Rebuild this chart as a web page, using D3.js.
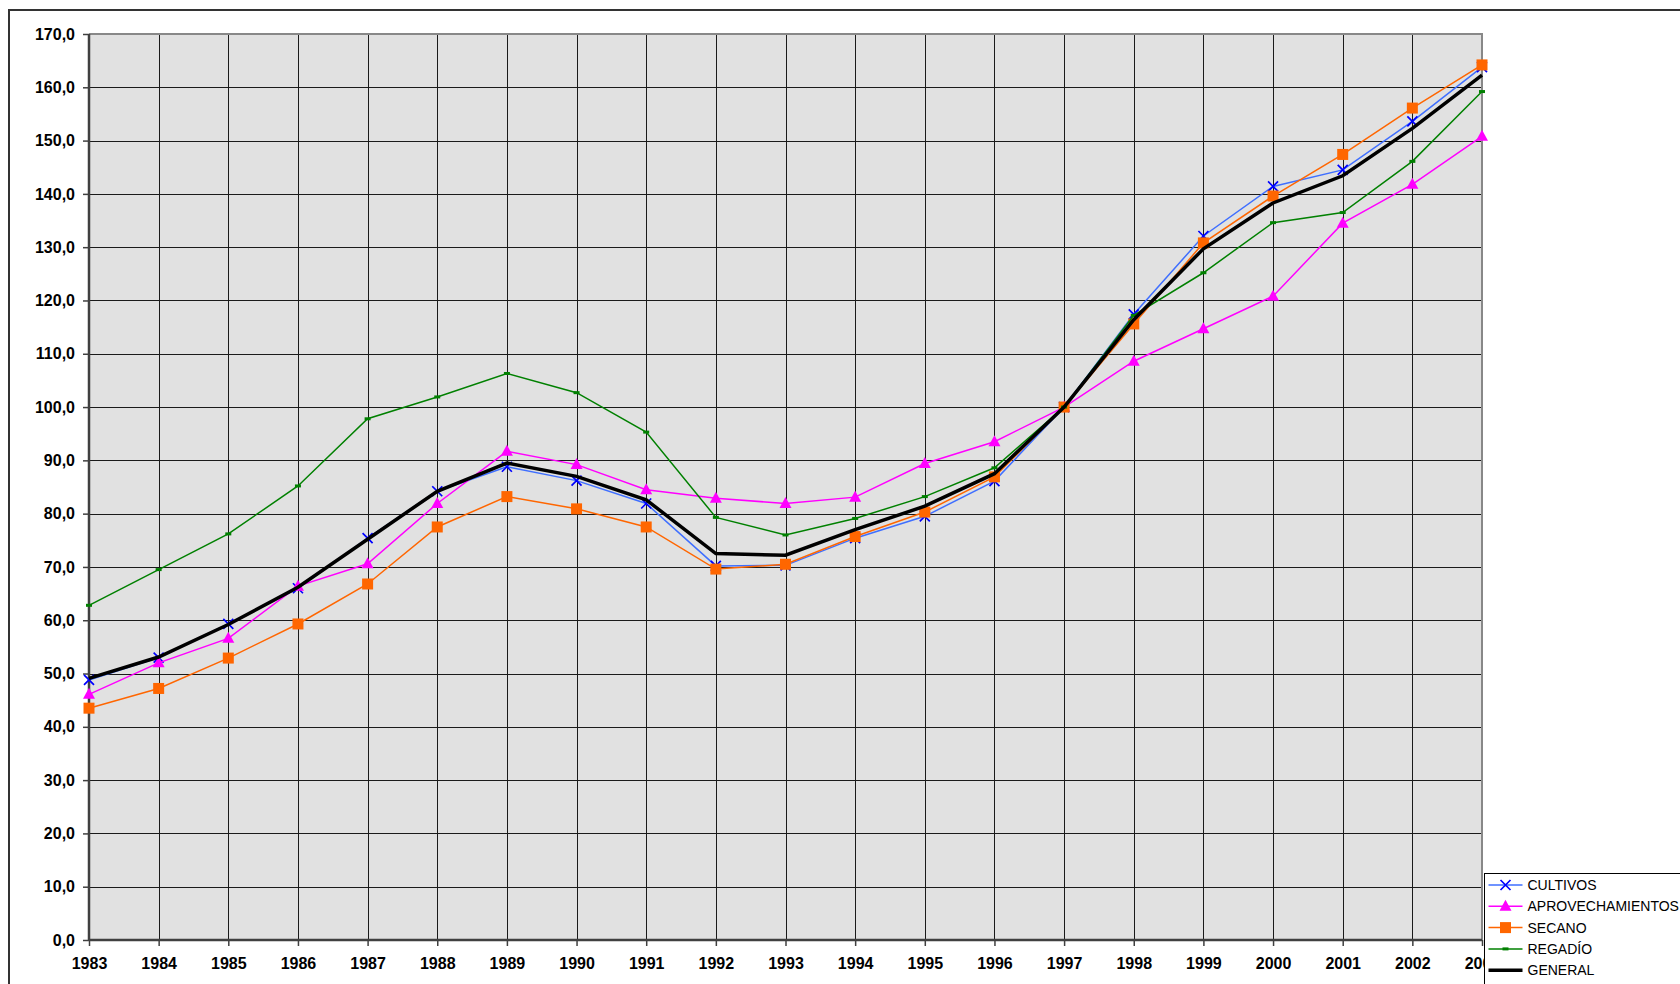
<!DOCTYPE html>
<html>
<head>
<meta charset="utf-8">
<script src="https://cdn.jsdelivr.net/npm/d3@7/dist/d3.min.js"></script>
<style>
  body { margin: 0; background: #fff; overflow: hidden; }
  svg { display: block; font-family: Arial, 'Liberation Sans', sans-serif; }
</style>
</head>
<body>
<div id="chart"></div>
<script>
// data
var years = [1983, 1984, 1985, 1986, 1987, 1988, 1989, 1990, 1991, 1992, 1993,
  1994, 1995, 1996, 1997, 1998, 1999, 2000, 2001, 2002, 2003]

var cultivos = [48.8, 53.0, 59.3, 66.0, 75.4, 84.2, 88.8, 86.2, 81.9, 70.2, 70.3,
  75.4, 79.5, 86.1, 100.0, 117.4, 132.1, 141.4, 144.5, 153.6, 163.8]
var aprovechamientos = [46.1, 52.0, 56.6, 66.4, 70.6, 81.9, 91.7, 89.2, 84.5, 82.9, 81.9,
  83.1, 89.4, 93.5, 100.0, 108.6, 114.7, 120.8, 134.5, 141.8, 150.8]
var secano = [43.5, 47.2, 52.9, 59.3, 66.8, 77.5, 83.2, 80.9, 77.5, 69.6, 70.5,
  75.7, 80.3, 86.9, 100.0, 115.6, 130.8, 139.6, 147.4, 156.1, 164.2]
var regadio = [62.8, 69.5, 76.2, 85.2, 97.8, 101.9, 106.3, 102.7, 95.3, 79.3, 76.0,
  79.1, 83.2, 88.6, 100.0, 117.2, 125.2, 134.6, 136.5, 146.1, 159.2]
var general = [49.1, 53.1, 59.2, 66.2, 75.2, 84.2, 89.5, 87.0, 82.6, 72.5, 72.2,
  77.0, 81.4, 87.5, 100.0, 116.4, 129.7, 138.3, 143.4, 152.3, 162.3]

var seriesNames = ['CULTIVOS', 'APROVECHAMIENTOS', 'SECANO', 'REGADÍO', 'GENERAL']
var yTicks = [0, 10, 20, 30, 40, 50, 60, 70, 80, 90, 100, 110, 120, 130, 140, 150, 160, 170]

var series = [
  { name: seriesNames[0], values: cultivos, line: '#3f6fff', mark: '#0000ff', width: 1.5, marker: 'x' },
  { name: seriesNames[1], values: aprovechamientos, line: '#ff00ff', mark: '#ff00ff', width: 1.5, marker: 'tri' },
  { name: seriesNames[2], values: secano, line: '#ff6600', mark: '#ff6600', width: 1.5, marker: 'sq' },
  { name: seriesNames[3], values: regadio, line: '#008000', mark: '#008000', width: 1.5, marker: 'dash' },
  { name: seriesNames[4], values: general, line: '#000000', mark: '#000000', width: 3.5, marker: 'none' }
]

var W = 1680, H = 984
var plot = { left: 89, right: 1482, top: 34, bottom: 940 }

var svg = d3.select('#chart').append('svg')
  .attr('width', W)
  .attr('height', H)

// outer chart frame
svg.append('rect')
  .attr('x', 9).attr('y', 10)
  .attr('width', 1720).attr('height', 1020)
  .attr('fill', '#fff')
  .attr('stroke', '#333')
  .attr('stroke-width', 2)

var x = d3.scaleLinear().domain([years[0], years[years.length - 1]]).range([plot.left, plot.right])
var y = d3.scaleLinear().domain([0, 170]).range([plot.bottom, plot.top])

// plot background
svg.append('rect')
  .attr('x', plot.left).attr('y', plot.top)
  .attr('width', plot.right - plot.left)
  .attr('height', plot.bottom - plot.top)
  .attr('fill', '#e1e1e1')

// grid
var grid = svg.append('g').attr('class', 'grid')
grid.selectAll('.hgrid')
  .data(yTicks)
  .enter()
  .append('line')
  .attr('x1', plot.left).attr('x2', plot.right)
  .attr('y1', d => Math.round(y(d)) + 0.5)
  .attr('y2', d => Math.round(y(d)) + 0.5)
  .attr('stroke', '#1a1a1a')
  .attr('stroke-width', 1)
grid.selectAll('.vgrid')
  .data(years)
  .enter()
  .append('line')
  .attr('y1', plot.top).attr('y2', plot.bottom)
  .attr('x1', d => Math.round(x(d)) + 0.5)
  .attr('x2', d => Math.round(x(d)) + 0.5)
  .attr('stroke', '#1a1a1a')
  .attr('stroke-width', 1)

// plot border top/right
svg.append('path')
  .attr('d', 'M' + plot.left + ',' + plot.top + 'H' + plot.right + 'V' + plot.bottom)
  .attr('fill', 'none')
  .attr('stroke', '#888')
  .attr('stroke-width', 2)

// axes
var yAxis = d3.axisLeft(y)
  .tickValues(yTicks)
  .tickSize(6)
  .tickPadding(8)
  .tickFormat(d => d3.format('.1f')(d).replace('.', ','))
var yg = svg.append('g')
  .attr('transform', 'translate(' + plot.left + ',0)')
  .call(yAxis)

var xAxis = d3.axisBottom(x)
  .tickValues(years)
  .tickSize(6)
  .tickPadding(12)
  .tickFormat(d3.format('d'))
var xg = svg.append('g')
  .attr('transform', 'translate(0,' + plot.bottom + ')')
  .call(xAxis)

;[yg, xg].forEach(function(g) {
  g.select('.domain').attr('stroke', '#404040').attr('stroke-width', 2.5)
  g.selectAll('.tick line').attr('stroke', '#404040').attr('stroke-width', 1.5)
  g.selectAll('.tick text')
    .attr('fill', '#000')
    .attr('font-size', 16)
    .attr('font-weight', 'bold')
    .attr('font-family', 'Arial, Liberation Sans, sans-serif')
})
yg.select('.domain').attr('d', 'M0,' + plot.top + 'V' + plot.bottom)
xg.select('.domain').attr('d', 'M' + plot.left + ',0H' + plot.right)

// markers
function drawMarker(g, type, color) {
  if (type === 'x') {
    g.append('path')
      .attr('d', 'M-5,-5L5,5M-5,5L5,-5')
      .attr('stroke', color)
      .attr('stroke-width', 1.7)
      .attr('fill', 'none')
  } else if (type === 'tri') {
    g.append('path')
      .attr('d', 'M0,-6.5L6,4.5L-6,4.5Z')
      .attr('fill', color)
  } else if (type === 'sq') {
    g.append('rect')
      .attr('x', -5.5).attr('y', -5.5)
      .attr('width', 11).attr('height', 11)
      .attr('fill', color)
  } else if (type === 'dash') {
    g.append('rect')
      .attr('x', -3).attr('y', -1.5)
      .attr('width', 6).attr('height', 3)
      .attr('fill', color)
  }
}

var line = d3.line()
  .x(d => x(d.year))
  .y(d => y(d.value))

series.forEach(function(s) {
  var pts = years.map((yr, i) => ({ year: yr, value: s.values[i] }))
  var g = svg.append('g').attr('class', 'series')
  g.append('path')
    .datum(pts)
    .attr('d', line)
    .attr('fill', 'none')
    .attr('stroke', s.line)
    .attr('stroke-width', s.width)
    .attr('stroke-linejoin', 'miter')
  g.selectAll('.mk')
    .data(pts)
    .enter()
    .append('g')
    .attr('transform', d => 'translate(' + x(d.year) + ',' + y(d.value) + ')')
    .each(function() {
      drawMarker(d3.select(this), s.marker, s.mark)
    })
})

// legend
var legend = svg.append('g').attr('transform', 'translate(1484.5,873.5)')
legend.append('rect')
  .attr('width', 260).attr('height', 140)
  .attr('fill', '#fff')
  .attr('stroke', '#000')
  .attr('stroke-width', 1)

series.forEach(function(s, i) {
  var row = legend.append('g').attr('transform', 'translate(0,' + (11.5 + i * 21.3) + ')')
  row.append('line')
    .attr('x1', 4).attr('x2', 38)
    .attr('stroke', s.line)
    .attr('stroke-width', s.width)
  drawMarker(row.append('g').attr('transform', 'translate(21,0)'), s.marker, s.mark)
  row.append('text')
    .attr('x', 43)
    .attr('y', 0)
    .attr('dy', '0.36em')
    .attr('font-size', 14)
    .attr('fill', '#000')
    .text(s.name)
})
</script>
</body>
</html>
